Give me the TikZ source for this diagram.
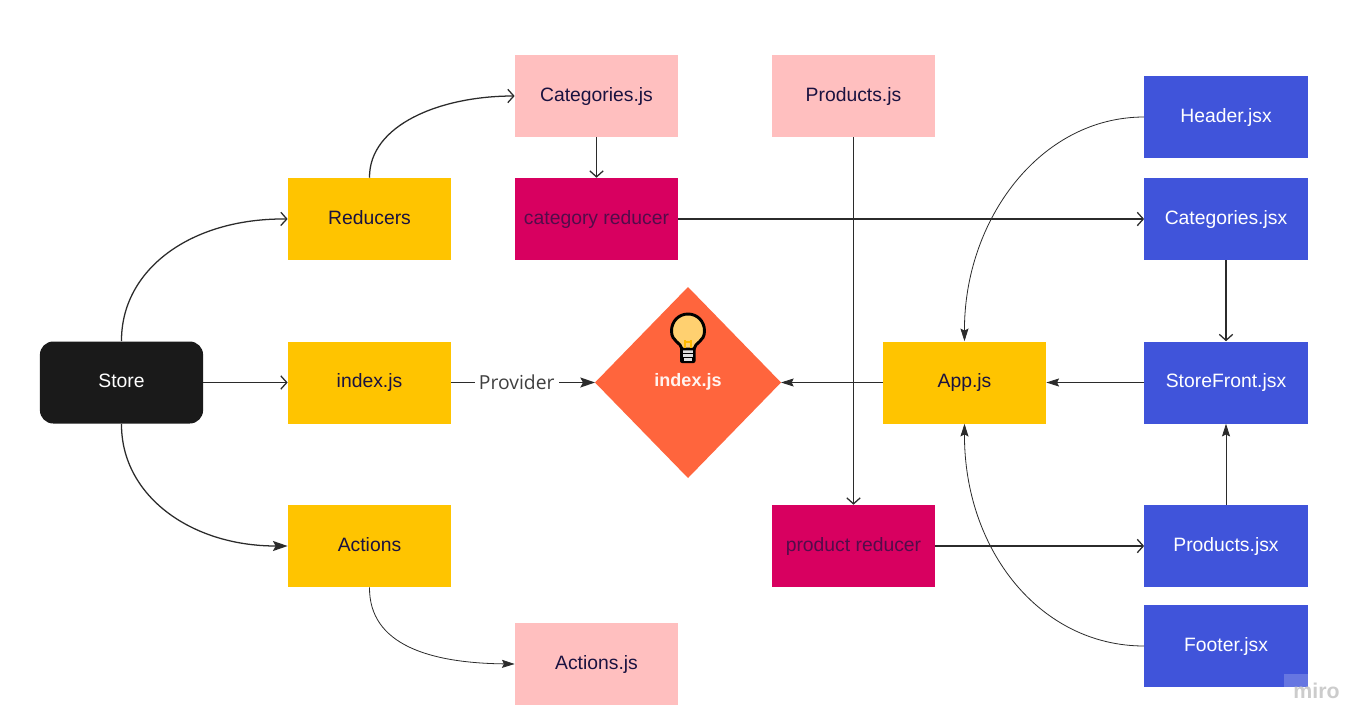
\documentclass[tikz,border=0pt]{standalone}
\usepackage{fontspec}
\setmainfont{Liberation Sans}
\newfontfamily\provfont{Open Sans}
\usetikzlibrary{arrows.meta,shapes.geometric}
\definecolor{ink}{HTML}{1A1240}
\definecolor{conn}{HTML}{2B2B2B}
\definecolor{cpink}{HTML}{FFBFBF}
\definecolor{cyellow}{HTML}{FFC400}
\definecolor{cred}{HTML}{D80060}
\definecolor{cblue}{HTML}{4054DA}
\definecolor{cblack}{HTML}{1A1A1A}
\definecolor{corange}{HTML}{FF653D}
\definecolor{cbulb}{HTML}{FFD070}
\tikzset{
  x=0.75pt,y=-0.75pt,
  box/.style={draw=none,minimum width=122.4pt,minimum height=61.5pt,inner sep=0pt,text height=11pt,text depth=3.5pt,font=\fontsize{14.5pt}{17pt}\selectfont,text=ink},
  pinkbox/.style={box,fill=cpink},
  yellowbox/.style={box,fill=cyellow},
  redbox/.style={box,fill=cred,text=ink!70!cred},
  bluebox/.style={box,fill=cblue,text=white},
  blackbox/.style={box,fill=cblack,text=white,rounded corners=10pt},
  openarr/.style={draw=conn,line width=0.95pt,-{Straight Barb[length=4.5pt,width=10pt]}},
  solidarr/.style={draw=conn,line width=0.95pt,-{Stealth[length=11pt,width=7.5pt,inset=2pt]}},
  thinarr/.style={draw=conn,line width=0.6pt,-{Stealth[length=9.5pt,width=6pt,inset=1.5pt]}},
}
\begin{document}
\begin{tikzpicture}
\useasboundingbox (0,0) rectangle (1349,728);
\fill[white] (0,0) rectangle (1349,728);
\node[blackbox] (store) at (121.5,382.5) {Store};
\node[yellowbox] (reducers) at (369.5,219) {Reducers};
\node[yellowbox] (indexa) at (369.5,382.5) {index.js};
\node[yellowbox] (actions) at (369.5,546) {Actions};
\node[pinkbox] (catsjs) at (596.5,96) {Categories.js};
\node[redbox] (catred) at (596.5,219) {category reducer};
\node[pinkbox] (actjs) at (596.5,664) {Actions.js};
\node[pinkbox] (prodjs) at (853.5,96) {Products.js};
\node[redbox] (prodred) at (853.5,546) {product reducer};
\node[yellowbox] (app) at (964.5,382.5) {App.js};
\node[bluebox] (header) at (1226,117) {Header.jsx};
\node[bluebox] (catsjsx) at (1226,219) {Categories.jsx};
\node[bluebox] (store2) at (1226,382.5) {StoreFront.jsx};
\node[bluebox] (prodjsx) at (1226,546) {Products.jsx};
\node[bluebox] (footer) at (1226,646) {Footer.jsx};
\fill[corange] (595,382.5) -- (688,287) -- (781,382.5) -- (688,478) -- cycle;
\coordinate (dl) at (595,382.5);
\coordinate (dr) at (781,382.5);
\node[font=\fontsize{13.5pt}{16pt}\selectfont\bfseries,text=white!92!corange,inner sep=0pt] (idx) at (688,381.5) {index.js};
% bulb
\fill[black,rounded corners=1.5pt] (680,347) rectangle (695.5,363);
\fill[gray!25] (683,349) rectangle (693,352.5);
\fill[gray!25] (683,353.5) rectangle (693,357);
\fill[gray!25] (684,358) rectangle (692,360.5);
\path[draw=black,line width=2.2pt,fill=cbulb] (682,349) .. controls (681,342) and (671.5,342) .. (671.5,331) .. controls (671.5,321) and (679,314) .. (688,314) .. controls (697,314) and (704.5,321) .. (704.5,331) .. controls (704.5,342) and (695,342) .. (694,349) -- cycle;
\draw[cyellow!85!orange,line width=0.8pt] (685,348) -- (685,340) (691,348) -- (691,340) (684,342) -- (692,342);
% connectors
\draw[openarr] (store.north) .. controls (121,270) and (190,218) .. (reducers.west);
\draw[openarr] (store.east) -- (indexa.west);
\draw[solidarr] (store.south) .. controls (121,495) and (190,546) .. (actions.west);
\draw[openarr] (reducers.north) .. controls (369,125) and (440,96) .. (catsjs.west);
\draw[thinarr] (actions.south) .. controls (369,645) and (430,663) .. (actjs.west);
\draw[solidarr] (indexa.east) -- node[pos=0.455,fill=white,inner xsep=3pt,inner ysep=1pt,font=\provfont\fontsize{14.5pt}{17pt}\selectfont,text=black!75] (prov) {Provider} (dl);
\draw[openarr] (catsjs.south) -- (catred.north);
\draw[openarr] (catred.east) -- (catsjsx.west);
\draw[openarr] (prodjs.south) -- (prodred.north);
\draw[openarr] (prodred.east) -- (prodjsx.west);
\draw[thinarr] (app.west) -- (dr);
\draw[thinarr] (store2.west) -- (app.east);
\draw[openarr] (catsjsx.south) -- (store2.north);
\draw[thinarr] (prodjsx.north) -- (store2.south);
\draw[thinarr] (header.west) .. controls (1040,117) and (964,220) .. (app.north);
\draw[thinarr] (footer.west) .. controls (1040,646) and (964,550) .. (app.south);
% watermark
\fill[white,opacity=0.2] (1284,674) rectangle (1308,687);
\node[font=\fontsize{16pt}{18pt}\selectfont\bfseries,text=black!20,inner sep=0pt] (miro) at (1316.5,691) {miro};
\end{tikzpicture}
\end{document}
